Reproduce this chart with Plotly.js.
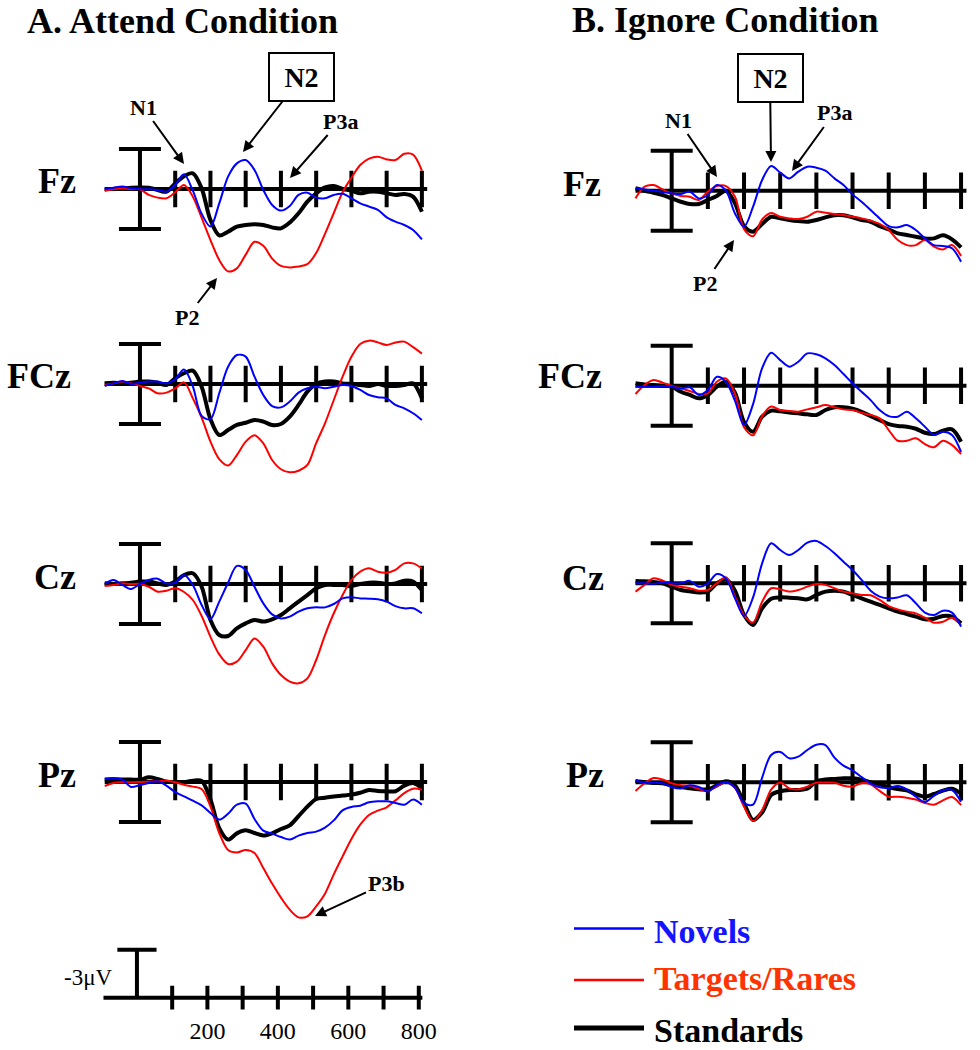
<!DOCTYPE html>
<html>
<head>
<meta charset="utf-8">
<script src="https://cdn.plot.ly/plotly-3.0.1.min.js"></script>
<style>
  html, body { margin: 0; padding: 0; background: #fff; }
  #chart { width: 980px; height: 1050px; }
</style>
</head>
<body>
<div id="chart"></div>
<script>
// sample times (ms) shared by every waveform
const times = [-100, -75, -50, -25, 0, 25, 50, 75, 100, 125, 150, 175, 200, 225, 250, 275, 300, 325, 350,
  375, 400, 425, 450, 475, 500, 525, 550, 575, 600, 625, 650, 675, 700, 725, 750, 775, 800]
const tickTimes = [100, 200, 300, 400, 500, 600, 700, 800]
const scaleLabels = [200, 400, 600, 800]

// amplitudes in uV, negative plotted up (ERP convention)
// A. Attend condition
const attFzNov = [0, -0.08, -0.15, -0.04, 0.02, 0.02, 0.06, 0.17, -0.25, -0.92, 0.1, 1.55, 2.35, 0.9, -0.77, -1.6, -1.81, -1.19, 0.06,
  1.0, 1.35, 1.06, 0.37, 0.23, 0.54, 0.58, 0.37, 0.3, 0.58, 0.9, 1.1, 1.31, 1.77, 2.04, 2.25, 2.56, 3.15]
const attFzTar = [0.12, 0.02, -0.04, 0.02, 0.02, 0.37, 0.54, 0.58, 0.2, -0.25, 0.48, 1.8, 3.19, 4.44, 5.15, 4.96, 4.1, 3.3, 3.55,
  4.35, 4.81, 4.9, 4.85, 4.7, 4.0, 2.8, 1.5, 0.2, -0.7, -1.5, -1.9, -2.02, -1.85, -1.81, -2.2, -2.15, -1.15]
const attFzStd = [0, 0, -0.04, -0.08, -0.1, -0.08, 0.06, 0.17, -0.35, -0.8, -0.98, -0.04, 1.94, 2.9, 2.67, 2.35, 2.25, 2.2, 2.25,
  2.4, 2.46, 2.1, 1.52, 0.79, 0.27, -0.1, -0.19, 0, 0.1, 0.27, 0.17, 0.17, 0.27, 0.37, 0.31, 0.48, 1.42]

const attFCzNov = [0.12, -0.04, -0.19, 0, -0.08, -0.15, -0.15, -0.04, -0.3, -0.9, 0.15, 2.0, 2.2, 0.58, -1.08, -1.81, -1.71, -0.46, 0.69,
  1.38, 1.46, 1.1, 0.54, 0.27, 0.17, 0.27, 0.17, 0.06, 0.12, 0.37, 0.69, 0.83, 0.9, 1.31, 1.52, 1.83, 2.25]
const attFCzTar = [0.06, -0.04, -0.15, -0.04, 0.12, 0.27, 0.58, 0.54, 0.27, -0.1, 0.9, 2.1, 3.6, 4.7, 5.1, 4.44, 3.6, 3.2, 3.71,
  4.75, 5.33, 5.52, 5.42, 5.06, 3.7, 2.46, 1.0, -0.46, -1.7, -2.5, -2.71, -2.6, -2.44, -2.6, -2.65, -2.3, -1.9]
const attFCzStd = [-0.04, -0.08, -0.04, -0.08, -0.15, -0.15, -0.08, 0.06, -0.35, -0.67, -0.83, 0.17, 2.2, 3.19, 2.88, 2.56, 2.42, 2.25, 2.35,
  2.56, 2.5, 2.04, 1.31, 0.48, 0, -0.15, -0.15, -0.04, 0, 0.06, 0.12, 0, 0.12, 0.12, 0.06, -0.04, 0.9]

const attCzNov = [0, -0.25, 0.06, 0.31, 0, -0.25, -0.33, -0.04, -0.08, -0.56, 0.06, 1.31, 2.2, 1.1, -0.08, -1.13, -0.88, 0.17, 1.21,
  1.9, 2.15, 2.04, 1.73, 1.52, 1.46, 1.46, 1.25, 0.9, 0.83, 0.9, 0.92, 0.96, 1.1, 1.38, 1.52, 1.52, 1.83]
const attCzTar = [0.12, 0.06, -0.04, 0, 0, 0.17, 0.48, 0.42, 0.27, 0.5, 1.0, 2.0, 3.3, 4.4, 5.0, 4.85, 4.13, 3.4, 3.92,
  4.96, 5.69, 6.1, 6.21, 5.9, 4.75, 3.19, 1.83, 0.69, -0.25, -0.77, -0.98, -0.77, -0.71, -0.88, -1.29, -1.29, -0.98]
const attCzStd = [-0.04, 0, -0.04, -0.08, -0.15, -0.15, -0.04, 0.06, -0.15, -0.56, -0.67, 0.17, 2.25, 3.19, 3.25, 2.77, 2.46, 2.25, 2.35,
  2.21, 1.94, 1.52, 1.1, 0.69, 0.27, 0.06, 0.06, 0.06, 0.12, 0, -0.08, -0.08, 0, -0.04, -0.21, -0.15, 0.38]

const attPzNov = [-0.19, -0.25, -0.15, 0.31, 0.19, 0.06, -0.04, 0.23, 0.63, 0.9, 1.17, 1.46, 1.94, 2.35, 1.98, 1.42, 1.35, 2.31, 3.04,
  3.23, 3.44, 3.6, 3.35, 3.19, 3.1, 2.85, 2.4, 1.77, 1.56, 1.48, 1.27, 1.21, 1.21, 1.31, 1.42, 1.1, 1.42]
const attPzTar = [0.25, 0.06, 0.02, 0.02, 0, -0.02, -0.04, -0.1, 0.02, 0.17, 0.29, 0.44, 1.52, 3.19, 4.25, 4.4, 4.25, 4.44, 5.38,
  6.35, 7.23, 7.98, 8.46, 8.4, 7.77, 6.98, 5.77, 4.65, 3.56, 2.67, 2.06, 1.79, 1.58, 1.15, 0.69, 0.42, 0.48]
const attPzStd = [-0.15, -0.15, -0.15, -0.15, -0.15, -0.29, -0.19, -0.02, 0, 0, -0.08, -0.06, 1.1, 2.88, 3.6, 3.21, 3.02, 3.19, 3.35,
  3.21, 2.94, 2.71, 2.13, 1.54, 1.06, 0.98, 0.9, 0.85, 0.79, 0.67, 0.5, 0.56, 0.58, 0.58, 0.23, 0.06, 0.38]

// B. Ignore condition
const ignFzNov = [-0.15, -0.08, 0, 0.08, 0.17, 0.21, 0.06, 0.48, 0.27, -0.35, 0, 1.42, 2.25, 1.0, -0.67, -1.54, -1.13, -0.77, -1.19,
  -1.5, -1.44, -1.25, -0.77, -0.35, 0.23, 0.69, 1.21, 1.73, 2.21, 2.29, 2.15, 2.46, 2.98, 3.4, 3.46, 3.6, 4.44]
const ignFzTar = [0.48, -0.25, -0.35, -0.08, 0.17, 0.33, 0.38, 0.58, 0.06, -0.29, -0.29, 0.38, 2.4, 2.85, 1.8, 1.4, 1.63, 1.73, 1.77,
  1.63, 1.31, 1.38, 1.46, 1.52, 1.63, 1.73, 1.88, 2.08, 2.46, 3.08, 3.4, 3.4, 3.08, 3.5, 3.67, 3.4, 4.08]
const ignFzStd = [-0.15, 0, 0.13, 0.27, 0.48, 0.69, 0.83, 0.83, 0.58, 0.33, 0, 0.79, 2.21, 2.56, 2.08, 1.63, 1.73, 1.83, 1.9,
  1.94, 1.83, 1.67, 1.54, 1.54, 1.67, 1.83, 1.94, 2.21, 2.42, 2.67, 2.77, 2.88, 2.98, 2.98, 2.79, 3.04, 3.54]

const ignFCzNov = [0.06, 0.06, 0.06, 0.02, 0.06, 0.17, 0.1, 0.58, 0.27, -0.56, -0.25, 0.95, 2.46, 1.15, -1.1, -2.06, -1.6, -1.19, -1.5,
  -2.02, -1.96, -1.71, -1.29, -0.73, -0.15, 0.38, 0.9, 1.52, 1.9, 1.94, 1.63, 2.04, 2.56, 3.08, 2.88, 3.08, 4.13]
const ignFCzTar = [0.52, -0.04, -0.35, -0.19, 0.02, 0.17, 0.33, 0.52, 0.48, -0.25, -0.46, 0.5, 2.6, 3.1, 1.9, 1.3, 1.52, 1.58, 1.63,
  1.48, 1.35, 1.21, 1.35, 1.48, 1.52, 1.69, 1.83, 2.04, 2.77, 3.44, 3.44, 3.29, 3.65, 3.85, 3.44, 3.71, 4.27]
const ignFCzStd = [-0.15, -0.08, -0.04, 0, 0.06, 0.38, 0.58, 0.79, 0.58, 0.06, -0.25, 0.44, 2.27, 2.88, 1.94, 1.56, 1.6, 1.67, 1.73,
  1.79, 1.83, 1.52, 1.35, 1.35, 1.44, 1.63, 1.9, 2.15, 2.4, 2.52, 2.56, 2.69, 2.94, 3.02, 2.81, 2.73, 3.5]

const ignCzNov = [0, 0, 0.04, -0.06, 0, 0, -0.15, 0.21, 0, -0.58, -0.31, 0.94, 2.04, 0.88, -1.25, -2.5, -2.08, -1.77, -2.08,
  -2.54, -2.65, -2.33, -1.88, -1.35, -0.83, -0.21, 0.46, 0.83, 0.94, 0.88, 0.75, 1.25, 1.83, 1.98, 1.71, 1.83, 2.71]
const ignCzTar = [0.52, 0.1, -0.31, -0.17, 0.1, 0.21, 0.31, 0.46, 0.42, 0, -0.38, 0.83, 2.0, 2.45, 1.15, 0.31, 0.38, 0.52, 0.42,
  0.21, 0.04, 0.1, 0.31, 0.52, 0.63, 0.73, 0.75, 1.04, 1.42, 1.63, 1.77, 1.88, 2.15, 2.46, 2.4, 2.15, 2.6]
const ignCzStd = [-0.15, -0.13, -0.08, 0, 0.21, 0.42, 0.5, 0.58, 0.52, 0, -0.25, 0.46, 1.98, 2.6, 1.56, 0.96, 0.88, 0.9, 0.94,
  1.0, 0.73, 0.52, 0.46, 0.52, 0.73, 0.94, 1.15, 1.35, 1.56, 1.77, 1.92, 2.08, 2.25, 2.21, 2.04, 2.08, 2.5]

const ignPzNov = [-0.13, 0.02, 0.02, 0.06, 0.29, 0.38, 0.19, 0.29, 0.58, 0.17, -0.02, 0.35, 1.3, 1.4, -0.29, -1.71, -1.9, -1.5, -1.6,
  -2.02, -2.35, -2.33, -1.54, -1.04, -0.75, -0.33, 0.08, 0.31, 0.35, 0.23, 0.44, 0.9, 1.23, 0.85, 0.5, 0.48, 1.21]
const ignPzTar = [0.54, 0.06, -0.27, -0.17, 0.06, 0.19, 0.23, 0.42, 0.56, 0.25, 0, 0.35, 1.52, 2.42, 1.75, 0.46, 0.02, 0.38, 0.44,
  0.27, 0.02, 0.02, 0.02, 0.21, 0.27, 0.06, 0.13, 0.54, 0.9, 0.9, 0.96, 1.08, 1.29, 1.4, 1.13, 0.92, 1.42]
const ignPzStd = [-0.08, 0, 0.04, 0.06, 0.19, 0.29, 0.38, 0.44, 0.44, 0.19, -0.06, 0.19, 1.31, 2.35, 1.88, 0.79, 0.56, 0.48, 0.48,
  0.4, -0.06, -0.17, -0.21, -0.25, -0.25, -0.17, 0, 0.13, 0.31, 0.42, 0.5, 0.75, 0.9, 0.73, 0.52, 0.4, 0.71]

const electrodes = ['Fz', 'FCz', 'Cz', 'Pz']
const seriesNames = ['Novels', 'Targets/Rares', 'Standards']

// ---- geometry (pixels on the 980x1050 page) ----
const W = 980
const H = 1050
const PX_UV = 16
const SERIF = 'Liberation Serif, Times New Roman, serif'
const X_RANGE = [-110, 825]
const COLS = [[101.2, 430.7], [631.9, 970.1]]
const BASES = [[189, 384, 584, 782], [190.7, 385.7, 583.3, 782.3]]
const DOWN = [7, 7, 7, 9.5]
const UP = 4
const BLUE = '#0000ff'
const RED = '#ff0000'

const panels = [
  [attFzNov, attFzTar, attFzStd], [attFCzNov, attFCzTar, attFCzStd],
  [attCzNov, attCzTar, attCzStd], [attPzNov, attPzTar, attPzStd],
  [ignFzNov, ignFzTar, ignFzStd], [ignFCzNov, ignFCzTar, ignFCzStd],
  [ignCzNov, ignCzTar, ignCzStd], [ignPzNov, ignPzTar, ignPzStd],
]

const traces = []
const layout = {
  width: W,
  height: H,
  margin: { l: 0, r: 0, t: 0, b: 0 },
  paper_bgcolor: '#fff',
  plot_bgcolor: 'rgba(0,0,0,0)',
  showlegend: false,
  font: { family: SERIF, color: '#000' },
  annotations: [],
  shapes: [],
}

const ax = i => (i === 1 ? '' : String(i))

function addAxes (i, xPx, yTop, yBot, range) {
  layout['xaxis' + ax(i)] = {
    domain: [xPx[0] / W, xPx[1] / W], range: X_RANGE, visible: false, fixedrange: true, anchor: 'y' + ax(i),
  }
  layout['yaxis' + ax(i)] = {
    domain: [1 - yBot / H, 1 - yTop / H], range: range, visible: false, fixedrange: true, anchor: 'x' + ax(i),
  }
}

function line (i, x, y, color, width, extra) {
  traces.push(Object.assign({
    x, y, xaxis: 'x' + ax(i), yaxis: 'y' + ax(i), type: 'scatter', mode: 'lines',
    line: { color, width }, hoverinfo: 'skip',
  }, extra))
}

panels.forEach((set, k) => {
  const i = k + 1
  const col = k < 4 ? 0 : 1
  const row = k % 4
  const yb = BASES[col][row]
  addAxes(i, COLS[col], yb - UP * PX_UV, yb + DOWN[row] * PX_UV, [DOWN[row], -UP])

  // baseline with ticks
  line(i, [-100, 815], [0, 0], '#000', 4)
  traces.push({
    x: tickTimes, y: tickTimes.map(() => 0), xaxis: 'x' + ax(i), yaxis: 'y' + ax(i),
    type: 'scatter', mode: 'markers', hoverinfo: 'skip',
    marker: { symbol: 'line-ns', size: 26, line: { color: '#000', width: 4 } },
  })
  // +/- scale bar at stimulus onset
  line(i, [0, 0], [-2.5, 2.5], '#000', 4, {
    mode: 'lines+markers',
    marker: { symbol: 'line-ew', size: 30, line: { color: '#000', width: 4 } },
  })

  const [nov, tar, std] = set
  line(i, times, std, '#000', 4, { line: { color: '#000', width: 4, shape: 'spline', smoothing: 0.9 } })
  line(i, times, tar, RED, 2, { line: { color: RED, width: 2, shape: 'spline', smoothing: 0.9 } })
  line(i, times, nov, BLUE, 2, { line: { color: BLUE, width: 2, shape: 'spline', smoothing: 0.9 } })
})

// calibration axis under the attend column
addAxes(9, [98.2, 427.6], 997.7 - 3.5 * PX_UV, 997.7 + 1 * PX_UV, [1, -3.5])
Object.assign(layout.xaxis9, {
  visible: true, showline: false, showgrid: false, zeroline: false, ticks: '',
  tickvals: scaleLabels, ticktext: scaleLabels.map(String),
  tickfont: { family: SERIF, size: 24, color: '#000' },
})
line(9, [-95, 810], [0, 0], '#000', 4)
traces.push({
  x: tickTimes, y: tickTimes.map(() => 0), xaxis: 'x9', yaxis: 'y9',
  type: 'scatter', mode: 'markers', hoverinfo: 'skip',
  marker: { symbol: 'line-ns', size: 17, line: { color: '#000', width: 4 } },
})
line(9, [0, 0], [0, -3], '#000', 4)
traces.push({
  x: [0], y: [-3], xaxis: 'x9', yaxis: 'y9', type: 'scatter', mode: 'markers', hoverinfo: 'skip',
  marker: { symbol: 'line-ew', size: 28, line: { color: '#000', width: 4 } },
})

// ---- text ----
const note = (text, x, y, opts) => Object.assign({
  text, x: x / W, y: 1 - y / H, xref: 'paper', yref: 'paper', showarrow: false,
}, opts)
const marker = (text, tx, ty, hx, hy, opts) => Object.assign({
  text: '<b>' + text + '</b>', x: hx / W, y: 1 - hy / H, xref: 'paper', yref: 'paper',
  ax: tx - hx, ay: ty - hy, showarrow: true, arrowhead: 2, arrowsize: 1.1, arrowwidth: 2,
  arrowcolor: '#000', font: { size: 22, family: SERIF, color: '#000' },
}, opts)

const big = { size: 36, family: SERIF, color: '#000' }
layout.annotations.push(
  note('<b>A. Attend Condition</b>', 25, 21, { xanchor: 'left', yanchor: 'middle', font: big }),
  note('<b>B. Ignore Condition</b>', 570, 20, { xanchor: 'left', yanchor: 'middle', font: big }),
)

const labelPos = [
  [[78, 181], [73, 375.5], [78, 577], [78, 775]],
  [[603, 183.5], [604, 375.5], [606, 578], [606, 774.5]],
]
labelPos.forEach(col => col.forEach((p, r) => {
  layout.annotations.push(note('<b>' + electrodes[r] + '</b>', p[0], p[1], {
    xanchor: 'right', yanchor: 'middle', font: big,
  }))
}))

const boxOpts = {
  font: { size: 28, family: SERIF, color: '#000' }, width: 63, height: 46,
  bordercolor: '#000', borderwidth: 2, borderpad: 0, bgcolor: '#fff',
}
layout.annotations.push(
  marker('N1', 143, 107, 184, 164),
  marker('P3a', 340, 121, 290, 178),
  marker('P2', 187, 317, 217, 278),
  marker('N2', 301.5, 77, 243, 152, boxOpts),
  marker('N1', 678, 120, 717, 177),
  marker('P3a', 834, 113, 792, 171),
  marker('P2', 705, 283, 734, 240),
  marker('N2', 770, 78, 771, 162, boxOpts),
  marker('P3b', 386, 883, 315, 916),
  note('-3\u03bcV', 114, 977, { xanchor: 'right', yanchor: 'middle', font: { size: 23, family: SERIF, color: '#000' } }),
)

// legend drawn by hand to match the long swatches
const legendRows = [
  { y: 928.5, color: BLUE, width: 2.5, text: 'rgb(20,20,255)', ty: 931 },
  { y: 980, color: RED, width: 2.5, text: 'rgb(255,51,0)', ty: 978 },
  { y: 1028, color: '#000', width: 5, text: '#000', ty: 1030 },
]
legendRows.forEach((r, k) => {
  layout.shapes.push({
    type: 'line', xref: 'paper', yref: 'paper', x0: 574 / W, x1: 644 / W, y0: 1 - r.y / H, y1: 1 - r.y / H,
    line: { color: r.color, width: r.width },
  })
  layout.annotations.push(note('<b>' + seriesNames[k] + '</b>', 652, r.ty, {
    xanchor: 'left', yanchor: 'middle', font: { size: 34, family: SERIF, color: r.text },
  }))
})

Plotly.newPlot('chart', traces, layout, { staticPlot: true, displayModeBar: false })
</script>
</body>
</html>
